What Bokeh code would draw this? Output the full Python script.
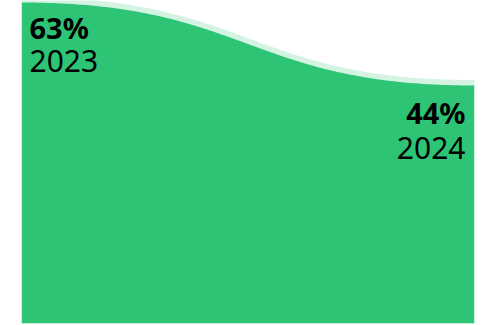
import numpy as np
from bokeh.plotting import figure
from bokeh.models import Range1d
from bokeh.core.properties import value
from bokeh.embed import file_html
from bokeh.resources import INLINE

years = [2023, 2024]
shares = [63, 44]
pct_labels = ["63%", "44%"]
year_labels = ["2023", "2024"]

GREEN = "#2dc475"
MINT = "#d5f3e3"

# smooth S-shaped (horizontal-tangent cubic) rendering between the two data points
s = np.linspace(0, 1, 200)
bx = 1.5 * s * (1 - s) + s ** 3
by = 3 * (1 - s) * s ** 2 + s ** 3
xs = years[0] + (years[1] - years[0]) * bx
ys = shares[0] + (shares[1] - shares[0]) * by

y_bottom = -10.5
p = figure(width=486, height=325, output_backend="svg", toolbar_location=None,
           x_range=Range1d(years[0], years[1]), y_range=Range1d(y_bottom, 63.46),
           min_border_left=21, min_border_right=12, min_border_top=0, min_border_bottom=2)
p.axis.visible = False
p.grid.visible = False
p.outline_line_color = None
p.background_fill_color = "white"
p.border_fill_color = "white"

p.line(xs, ys, line_color=MINT, line_width=11)
px = np.concatenate([xs, [years[1], years[0]]])
py = np.concatenate([ys, [y_bottom, y_bottom]])
p.patch(px, py, fill_color=GREEN, line_color=None)

font = value("Noto Sans")
p.text(x=[years[0]], y=[shares[0]], text=[pct_labels[0]], text_font=font, text_font_size="29px",
       text_font_style="bold", text_align="left", text_baseline="alphabetic",
       x_offset=8, y_offset=25, text_color="black")
p.text(x=[years[0]], y=[shares[0]], text=[year_labels[0]], text_font=font, text_font_size="30px",
       text_align="left", text_baseline="alphabetic", x_offset=8, y_offset=58, text_color="black")
p.text(x=[years[1]], y=[shares[1]], text=[pct_labels[1]], text_font=font, text_font_size="29px",
       text_font_style="bold", text_align="right", text_baseline="alphabetic",
       x_offset=-9, y_offset=27, text_color="black")
p.text(x=[years[1]], y=[shares[1]], text=[year_labels[1]], text_font=font, text_font_size="30px",
       text_align="right", text_baseline="alphabetic", x_offset=-9, y_offset=63, text_color="black")

open("out.html", "w").write(file_html(p, INLINE))
